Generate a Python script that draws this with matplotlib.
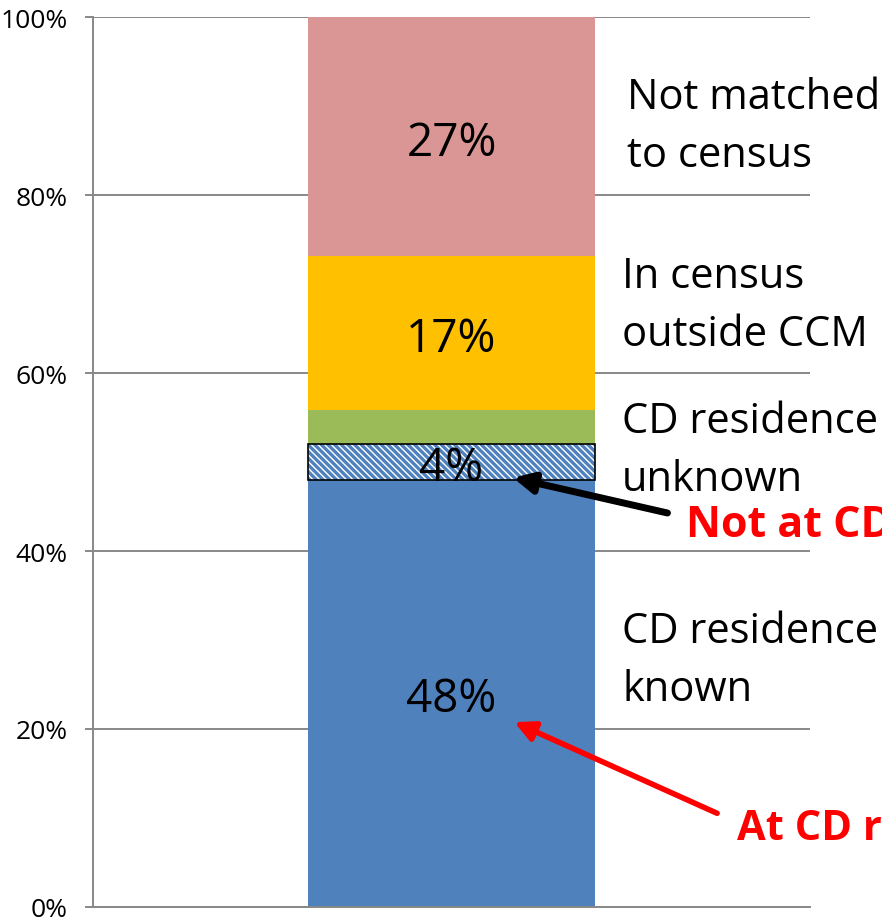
import numpy as np
import matplotlib.pyplot as plt

# stacked shares, bottom to top
segments = ["CD residence known", "Not at CD", "CD residence unknown",
            "In census outside CCM", "Not matched to census"]
values = [48.0, 4.0, 3.8, 17.3, 26.9]
bar_labels = ["48%", "4%", "", "17%", "27%"]
colors = ["#4F81BD", "#4F81BD", "#9BBB59", "#FFC000", "#D99694"]

side_labels = [
    ("Not matched\nto census", 0.745, 87.8),
    ("In census\noutside CCM", 0.738, 67.6),
    ("CD residence\nunknown", 0.738, 51.4),
    ("CD residence\nknown", 0.738, 27.7),
]
yticks = [0, 20, 40, 60, 80, 100]

plt.rcParams["font.family"] = ["Open Sans", "DejaVu Sans"]

W, H = 882, 920
fig = plt.figure(figsize=(W / 100, H / 100), dpi=100)
ax = fig.add_axes([93 / W, 12 / H, 717 / W, 890 / H])
ax.set_xlim(0, 1)
ax.set_ylim(0, 100)

grey = "#888888"
for y in yticks:
    ax.axhline(y, color=grey, lw=1.4, zorder=0)

bottoms = np.concatenate([[0], np.cumsum(values)[:-1]])
for i, (v, b, c) in enumerate(zip(values, bottoms, colors)):
    if segments[i] == "Not at CD":
        ax.bar(0.5, v, 0.4, bottom=b, color=c, edgecolor="white",
               hatch="\\\\\\\\\\", linewidth=0, zorder=2)
        ax.bar(0.5, v, 0.4, bottom=b, facecolor="none", edgecolor="black",
               linewidth=1.2, zorder=3)
    else:
        ax.bar(0.5, v, 0.4, bottom=b, color=c, linewidth=0, zorder=2)
    if bar_labels[i]:
        ax.text(0.5, b + v / 2 - 2.0, bar_labels[i], ha="center",
                va="baseline", fontsize=33, zorder=4)

for txt, x, y in side_labels:
    ax.text(x, y, txt, ha="left", va="center", fontsize=30,
            linespacing=1.5, clip_on=False)

# annotations
ax.annotate("", xy=(0.582, 48.3), xytext=(0.805, 44.2),
            arrowprops=dict(arrowstyle="-|>", color="black", lw=5,
                            mutation_scale=30), annotation_clip=False)
ax.text(0.827, 43.0, "Not at CD", color="red", fontsize=31,
        fontweight="bold", ha="left", va="center", clip_on=False)
ax.annotate("", xy=(0.584, 20.9), xytext=(0.874, 10.4),
            arrowprops=dict(arrowstyle="-|>", color="red", lw=4,
                            mutation_scale=30), annotation_clip=False)
ax.text(0.898, 8.8, "At CD residence", color="red", fontsize=30,
        fontweight="bold", ha="left", va="center", clip_on=False)

ax.set_xticks([])
ax.set_yticks(yticks)
ax.set_yticklabels([f"{t}%" for t in yticks], fontsize=19)
ax.tick_params(axis="y", length=6, width=1.4, color=grey, pad=12)
for s in ["top", "right"]:
    ax.spines[s].set_visible(False)
for s in ["left", "bottom"]:
    ax.spines[s].set_color(grey)
    ax.spines[s].set_linewidth(1.4)

fig.savefig("out.png", dpi=100)
